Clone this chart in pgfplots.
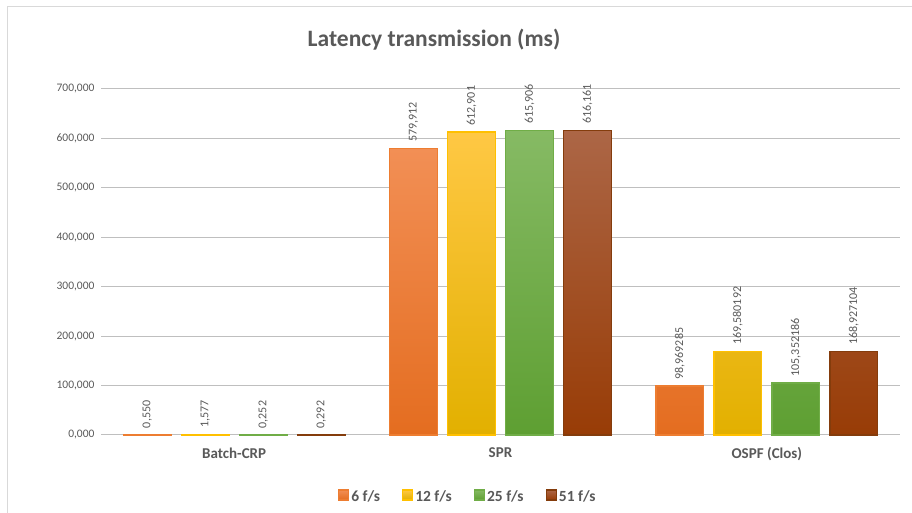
\documentclass[border=0pt]{standalone}
\usepackage{pgfplots}
\pgfplotsset{compat=1.18}
\usepackage{pgfplotstable}
\usepackage{fontspec}
\setmainfont{Carlito}
\definecolor{txt}{HTML}{595959}
\definecolor{grid}{HTML}{D9D9D9}
\definecolor{oT}{HTML}{F28F55}\definecolor{oB}{HTML}{E46D20}\definecolor{oE}{HTML}{ED7D31}
\definecolor{yT}{HTML}{FFC844}\definecolor{yB}{HTML}{E2B000}\definecolor{yE}{HTML}{FFC000}
\definecolor{gT}{HTML}{86BA64}\definecolor{gB}{HTML}{5E9F32}\definecolor{gE}{HTML}{70AD47}
\definecolor{bT}{HTML}{AC6646}\definecolor{bB}{HTML}{983C06}\definecolor{bE}{HTML}{843C0C}
\pgfplotstableread{
x y lab
0 0.550 0,550
1 579.912 579,912
2 98.969285 98,969285
}\sixfs
\pgfplotstableread{
x y lab
0 1.577 1,577
1 612.901 612,901
2 169.580192 169,580192
}\twelvefs
\pgfplotstableread{
x y lab
0 0.252 0,252
1 615.906 615,906
2 105.352186 105,352186
}\twentyfivefs
\pgfplotstableread{
x y lab
0 0.292 0,292
1 616.161 616,161
2 168.927104 168,927104
}\fiftyonefs
\begin{document}
\begin{tikzpicture}
\useasboundingbox (0,0) rectangle (912pt,513pt);
\draw[grid, line width=1pt] (7pt,0) -- (7pt,506pt) -- (912pt,506pt);
\node[txt, font=\fontsize{23.5}{28}\selectfont\bfseries, anchor=center] at (434pt,473pt) {Latency transmission (ms)};
\begin{axis}[
  at={(101pt,78pt)}, anchor=south west,
  scale only axis, width=799pt, height=346pt,
  xmin=-0.5, xmax=2.5, ymin=0, ymax=700,
  xtick={0,1,2}, xticklabels={Batch-CRP,SPR,OSPF (Clos)},
  ytick={0,100,...,700},
  yticklabels={{0,000},{100,000},{200,000},{300,000},{400,000},{500,000},{600,000},{700,000}},
  axis line style={draw=none},
  major tick length=0pt,
  xtick style={draw=none}, ytick style={draw=none},
  xmajorgrids=false, ymajorgrids=true, grid style={grid, line width=1pt},
  tick label style={txt},
  yticklabel style={font=\fontsize{11.5}{13}\selectfont, xshift=-3pt},
  xticklabel style={font=\fontsize{15}{17}\selectfont\bfseries, yshift=-9pt},
  ybar, bar width=0.18,
  nodes near coords,
  point meta=explicit symbolic,
  every node near coord/.append style={rotate=90, anchor=west, txt, font=\fontsize{12}{14}\selectfont, inner xsep=6pt, inner ysep=1pt},
  legend columns=4,
  legend style={draw=none, fill=none, at={(axis description cs:0.459,-0.179)}, anchor=center,
    font=\fontsize{15.5}{18}\selectfont\bfseries, text=txt,
    /tikz/every even column/.append style={column sep=20pt}},
  legend image code/.code={\fill[#1] (0pt,-3pt) rectangle (10pt,7pt);},
  clip=false,
]
\addplot[bar shift=-0.3267, top color=oT, bottom color=oB, draw=oE, line width=1.3pt] table[x=x,y=y,meta=lab]{\sixfs};
\addplot[bar shift=-0.1089, top color=yT, bottom color=yB, draw=yE, line width=1.3pt] table[x=x,y=y,meta=lab]{\twelvefs};
\addplot[bar shift=0.1089, top color=gT, bottom color=gB, draw=gE, line width=1.3pt] table[x=x,y=y,meta=lab]{\twentyfivefs};
\addplot[bar shift=0.3267, top color=bT, bottom color=bB, draw=bE, line width=1.3pt] table[x=x,y=y,meta=lab]{\fiftyonefs};
\legend{6 f/s,12 f/s,25 f/s,51 f/s}
\end{axis}
\end{tikzpicture}
\end{document}
